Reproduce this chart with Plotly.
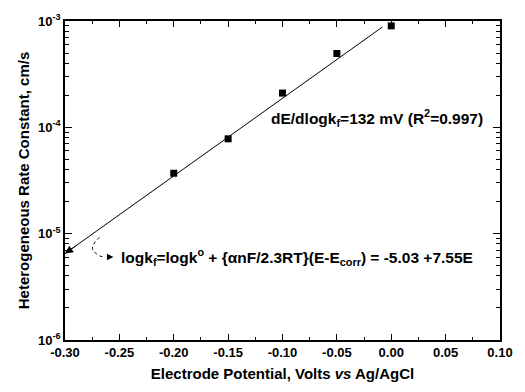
import numpy as np
import plotly.graph_objects as go

# data
potential = [-0.20, -0.15, -0.10, -0.05, 0.00]
rate_const = [3.7e-5, 7.8e-5, 2.1e-4, 4.95e-4, 9.0e-4]
fit_E = [-0.30, -0.008]
fit_k = [6.5e-6, 8.8e-4]
x_ticks = [-0.30, -0.25, -0.20, -0.15, -0.10, -0.05, 0.00, 0.05, 0.10]
x_ticklabels = ["-0.30", "-0.25", "-0.20", "-0.15", "-0.10", "-0.05", "0.00", "0.05", "0.10"]
y_ticks = [1e-6, 1e-5, 1e-4, 1e-3]
y_ticklabels = ["10<sup>-6</sup>", "10<sup>-5</sup>", "10<sup>-4</sup>", "10<sup>-3</sup>"]
y_minor = [m * 10.0 ** e for e in (-6, -5, -4) for m in range(2, 10)]
x_minor = [-0.275, -0.225, -0.175, -0.125, -0.075, -0.025, 0.025, 0.075]

FONT = "Liberation Sans, Arial, sans-serif"

fig = go.Figure()
fig.add_trace(go.Scatter(x=fit_E, y=fit_k, mode="lines",
                         line=dict(color="black", width=1), showlegend=False))
fig.add_trace(go.Scatter(x=potential, y=rate_const, mode="markers",
                         marker=dict(symbol="square", size=7, color="black"),
                         showlegend=False))

fig.update_layout(
    width=525, height=392,
    margin=dict(l=65, r=20, t=18, b=51),
    paper_bgcolor="white", plot_bgcolor="white",
    font=dict(family=FONT, color="black"),
    xaxis=dict(range=[-0.30, 0.10], tickvals=x_ticks, ticktext=x_ticklabels,
               ticks="inside", ticklen=6, tickwidth=1, tickcolor="black",
               showline=True, linecolor="black", linewidth=1.5, mirror="ticks",
               showgrid=False, zeroline=False,
               tickfont=dict(size=13, family=FONT, weight="bold"),
               minor=dict(tickvals=x_minor, ticks="inside", ticklen=3, tickcolor="black"),
               title=dict(text="Electrode Potential, Volts <i>vs</i> Ag/AgCl",
                          font=dict(size=15, family=FONT, weight="bold"), standoff=9)),
    yaxis=dict(type="log", range=[-6, -3], tickvals=y_ticks, ticktext=y_ticklabels,
               ticks="inside", ticklen=7, tickwidth=1, tickcolor="black",
               showline=True, linecolor="black", linewidth=1.5, mirror="ticks",
               showgrid=False, zeroline=False,
               tickfont=dict(size=13, family=FONT, weight="bold"),
               minor=dict(tickvals=y_minor, ticks="inside", ticklen=4, tickcolor="black"),
               title=dict(text="Heterogeneous Rate Constant, cm/s",
                          font=dict(size=15, family=FONT, weight="bold"), standoff=5)),
)

# arrowhead at left end of fit line
fig.add_annotation(x=fit_E[0], y=np.log10(fit_k[0]), xref="x", yref="y",
                   ax=12, ay=-8.5, showarrow=True, arrowhead=2, arrowsize=1.6,
                   arrowwidth=1, arrowcolor="black", text="", standoff=0)

# text annotations
fig.add_annotation(x=0.47, y=0.695, xref="paper", yref="paper", xanchor="left", yanchor="middle",
                   text="<b>dE/dlogk<sub>f</sub>=132 mV (R<sup>2</sup>=0.997)</b>",
                   showarrow=False, font=dict(size=15.5, family=FONT, color="black"))
fig.add_annotation(x=0.125, y=0.261, xref="paper", yref="paper", xanchor="left", yanchor="middle",
                   text="<b>logk<sub>f</sub>=logk<sup>o</sup> + {\u03b1nF/2.3RT}(E-E<sub>corr</sub>) = -5.03 +7.55E</b>",
                   showarrow=False, font=dict(size=15.5, family=FONT, color="black"))

# dotted curved arrow
def px(xp):
    return (xp - 65) / 440.0
def py(yp):
    return (341 - yp) / 323.0

path = "M {},{} Q {},{} {},{} Q {},{} {},{}".format(
    px(100), py(237), px(88), py(248), px(96), py(253),
    px(100), py(257), px(106), py(257))
fig.add_shape(type="path", path=path, xref="paper", yref="paper",
              line=dict(color="black", width=1, dash="dot"))
fig.add_annotation(x=px(114), y=py(257), xref="paper", yref="paper",
                   ax=-8, ay=0, showarrow=True, arrowhead=2, arrowsize=1.3,
                   arrowwidth=1, arrowcolor="black", text="", standoff=0)

fig.write_html("out.html")
